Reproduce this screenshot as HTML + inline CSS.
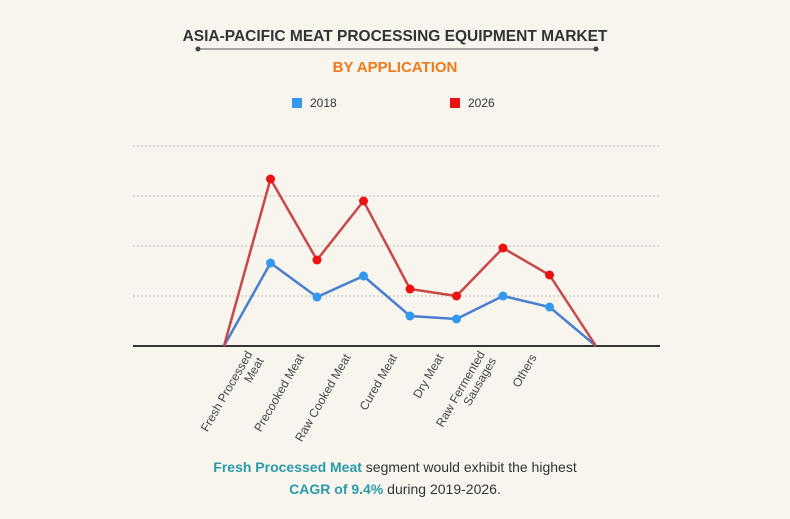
<!DOCTYPE html>
<html><head><meta charset="utf-8"><style>
body{margin:0;background:#f8f5ee;}
svg{display:block;font-family:"Liberation Sans",sans-serif;}
</style></head><body>
<svg width="790" height="519" viewBox="0 0 790 519">
<rect width="790" height="519" fill="#f8f5ee"/>
<text x="395" y="41" text-anchor="middle" font-size="15.5" font-weight="bold" fill="#333">ASIA-PACIFIC MEAT PROCESSING EQUIPMENT MARKET</text>
<line x1="198" y1="49" x2="596" y2="49" stroke="#555" stroke-width="1"/>
<circle cx="198" cy="49" r="2.5" fill="#444"/>
<circle cx="596" cy="49" r="2.5" fill="#444"/>
<text x="395" y="72" text-anchor="middle" font-size="15" font-weight="bold" fill="#f07a1a">BY APPLICATION</text>
<g>
<rect x="292" y="98" width="10" height="10" fill="#3399ee"/>
<text x="310" y="107" font-size="12" fill="#333">2018</text>
<rect x="450" y="98" width="10" height="10" fill="#ee1111"/>
<text x="468" y="107" font-size="12" fill="#333">2026</text>
</g>
<g id="grid"></g>
<g id="series"></g>
<g id="labels"></g>
<text x="395" y="472" text-anchor="middle" font-size="14" fill="#333"><tspan font-weight="bold" fill="#2a9aaa">Fresh Processed Meat</tspan> segment would exhibit the highest</text>
<text x="395" y="494" text-anchor="middle" font-size="14" fill="#333"><tspan font-weight="bold" fill="#2a9aaa">CAGR of 9.4%</tspan> during 2019-2026.</text>
</svg>
<script>
const categories = ["", "Fresh Processed|Meat", "Precooked Meat", "Raw Cooked Meat", "Cured Meat", "Dry Meat", "Raw Fermented|Sausages", "Others", ""];
const values2018 = [0, 1.66, 0.98, 1.4, 0.6, 0.54, 1.0, 0.78, 0];
const values2026 = [0, 3.34, 1.72, 2.9, 1.14, 1.0, 1.96, 1.42, 0];
const yTicks = [1, 2, 3, 4];
const NS = "http://www.w3.org/2000/svg";
const x0 = 224, step = 46.5, yBase = 346, unit = 50;
const xs = i => x0 + i * step;
const ys = v => yBase - v * unit;
function mk(tag, attrs, parent){const e=document.createElementNS(NS,tag);for(const k in attrs)e.setAttribute(k,attrs[k]);parent.appendChild(e);return e;}
const grid = document.getElementById('grid');
yTicks.forEach(t=>{
  const l = mk('line',{x1:133,x2:660,y1:ys(t),y2:ys(t),stroke:'#bbb','stroke-dasharray':'2,2','stroke-width':1},grid);
  
  
});
const ax = mk('line',{x1:133,x2:660,y1:yBase,y2:yBase,stroke:'#333','stroke-width':2},grid);


const ser = document.getElementById('series');
[[values2018,'#4a7fd0','#3399ee','2018'],[values2026,'#c84848','#ee1111','2026']].forEach(([vals,lc,pc,nm])=>{
  const p = mk('polyline',{points:vals.map((v,i)=>xs(i)+','+ys(v)).join(' '),fill:'none',stroke:lc,'stroke-width':2.5},ser);
  
  
  vals.forEach((v,i)=>{
    if(i===0||i===vals.length-1) return;
    const c = mk('circle',{cx:xs(i),cy:ys(v),r:4.5,fill:pc},ser);
    
    
  });
});
const lab = document.getElementById('labels');
categories.forEach((c,i)=>{
  if(!c) return;
  const x = xs(i)-16, y = 355;
  const t = mk('text',{transform:`translate(${x},${y}) rotate(-60)`,'text-anchor':'end','font-size':12,fill:'#444'},lab);
  
  
  const parts = c.split('|');
  parts.forEach((s,j)=>{
    const ts = mk('tspan',{x:0,dy: j===0 ? (parts.length>1?-2:4) : 13},t);
    ts.textContent = s;
  });
});
</script>
</body></html>
